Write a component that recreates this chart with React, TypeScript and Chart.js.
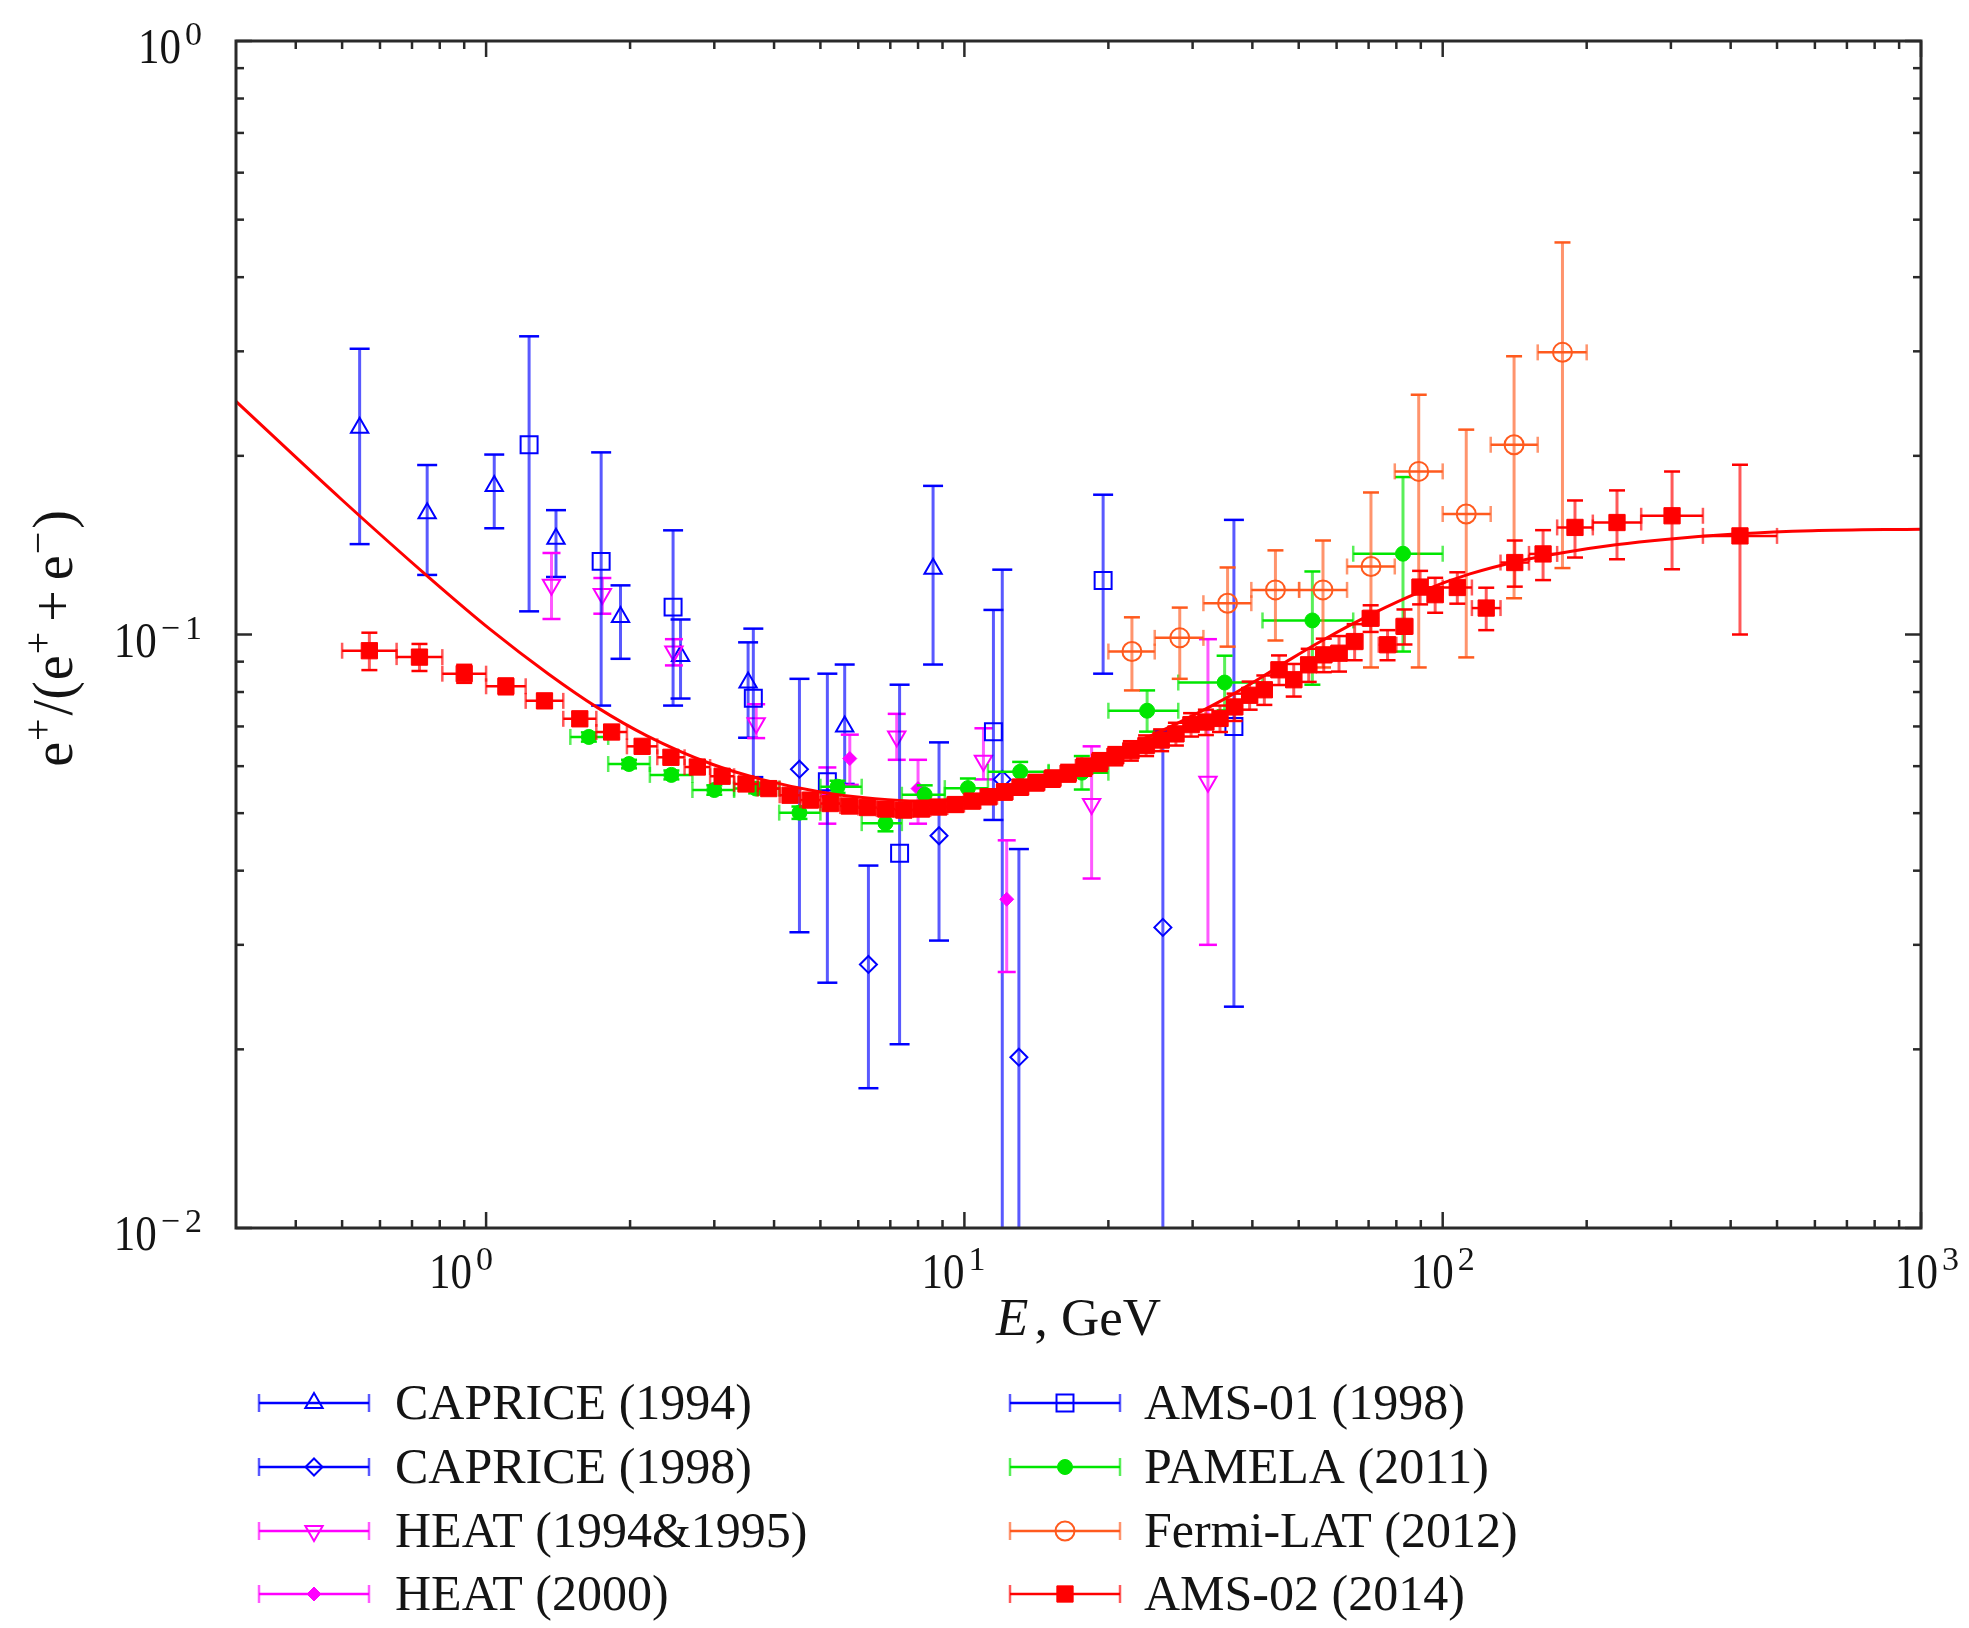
import React, { useEffect, useRef } from 'react';
import { Chart, registerables } from 'chart.js';

Chart.register(...registerables);

// ---------- page / frame geometry ----------
const PAGE_W = 1969;
const PAGE_H = 1628;
const AREA = { left: 236, top: 41, right: 1921, bottom: 1228 };

// ---------- axes ----------
const X_MIN = 0.3;
const X_MAX = 1000;
const Y_MIN = 0.01;
const Y_MAX = 1;
const X_MAJOR = [1, 10, 100, 1000];
const X_MAJOR_EXP = ['0', '1', '2', '3'];
const Y_MAJOR = [0.01, 0.1, 1];
const Y_MAJOR_EXP = ['\u22122', '\u22121', '0'];
const X_MINOR = [0.4, 0.5, 0.6, 0.7, 0.8, 0.9, 2, 3, 4, 5, 6, 7, 8, 9, 20, 30, 40, 50, 60, 70, 80, 90, 200, 300, 400, 500, 600, 700, 800, 900];
const Y_MINOR = [0.02, 0.03, 0.04, 0.05, 0.06, 0.07, 0.08, 0.09, 0.2, 0.3, 0.4, 0.5, 0.6, 0.7, 0.8, 0.9];

// ---------- measurements: positron fraction e+/(e+ + e-) vs energy (GeV) ----------
const CAPRICE94_E = [0.544, 0.753, 1.04, 1.40, 1.91, 2.55, 3.53, 5.62, 8.60];
const CAPRICE94_R = [0.223, 0.160, 0.178, 0.145, 0.107, 0.092, 0.083, 0.070, 0.129];
const CAPRICE94_LO = [0.142, 0.126, 0.151, 0.125, 0.091, 0.078, 0.067, 0.056, 0.089];
const CAPRICE94_HI = [0.303, 0.193, 0.201, 0.162, 0.121, 0.106, 0.097, 0.089, 0.178];

const CAPRICE98_E = [4.52, 6.30, 8.85, 12.0, 13.0, 26.0];
const CAPRICE98_R = [0.0593, 0.0278, 0.0458, 0.0570, 0.0194, 0.0321];
const CAPRICE98_LO = [0.0315, 0.0172, 0.0305, 0.005, 0.005, 0.005];
const CAPRICE98_HI = [0.0842, 0.0408, 0.0658, 0.1286, 0.0435, 0.0688];

const HEAT9495_E = [1.37, 1.75, 2.47, 3.67, 7.22, 10.96, 18.45, 32.3];
const HEAT9495_R = [0.1213, 0.1170, 0.0936, 0.0709, 0.0673, 0.0613, 0.0518, 0.0565];
const HEAT9495_LO = [0.1062, 0.1084, 0.0887, 0.0669, 0.0615, 0.0570, 0.0388, 0.0300];
const HEAT9495_HI = [0.1372, 0.1245, 0.0982, 0.0763, 0.0735, 0.0695, 0.0648, 0.0982];

const HEAT2000_E = [5.17, 5.76, 8.0, 12.26];
const HEAT2000_R = [0.0535, 0.0618, 0.0550, 0.0358];
const HEAT2000_LO = [0.0480, 0.0558, 0.0480, 0.0270];
const HEAT2000_HI = [0.0597, 0.0678, 0.0615, 0.0450];

const AMS01_E = [1.23, 1.74, 2.46, 3.62, 5.17, 7.32, 11.5, 19.5, 36.6];
const AMS01_R = [0.2088, 0.1328, 0.1112, 0.0781, 0.0565, 0.0428, 0.0686, 0.1233, 0.0700];
const AMS01_LO = [0.1094, 0.0759, 0.0759, 0.0575, 0.0259, 0.0204, 0.0487, 0.0859, 0.0236];
const AMS01_HI = [0.318, 0.2027, 0.1498, 0.1023, 0.0859, 0.0823, 0.110, 0.172, 0.156];

const PAMELA_EDGES = [1.5, 1.8, 2.2, 2.7, 3.3, 4.1, 5.0, 6.1, 7.4, 9.1, 11.2, 15, 20, 28, 42, 65, 100];
const PAMELA_E = [1.64, 1.99, 2.44, 3.00, 3.67, 4.52, 5.43, 6.84, 8.26, 10.17, 13.08, 17.6, 24.1, 35.0, 53.4, 82.6];
const PAMELA_R = [0.0672, 0.0605, 0.0580, 0.0547, 0.0550, 0.0501, 0.0554, 0.0481, 0.0537, 0.0551, 0.0587, 0.0585, 0.0744, 0.0830, 0.1056, 0.1368];
const PAMELA_LO = [0.0660, 0.0595, 0.0570, 0.0537, 0.0540, 0.0489, 0.0541, 0.0466, 0.0517, 0.0525, 0.0565, 0.0548, 0.0686, 0.0745, 0.0823, 0.0936];
const PAMELA_HI = [0.0684, 0.0615, 0.0590, 0.0557, 0.0560, 0.0513, 0.0567, 0.0496, 0.0557, 0.0572, 0.0610, 0.0624, 0.0805, 0.0921, 0.1277, 0.1842];

const FERMI_EDGES = [20, 25, 31.6, 39.8, 50.1, 63.1, 79.4, 100, 126, 158, 200];
const FERMI_E = [22.4, 28.2, 35.5, 44.7, 56.2, 70.8, 89.1, 112, 141, 178];
const FERMI_R = [0.0936, 0.0987, 0.1129, 0.1189, 0.1189, 0.1302, 0.1883, 0.1596, 0.2088, 0.2988];
const FERMI_LO = [0.0805, 0.0842, 0.0954, 0.0977, 0.0880, 0.0880, 0.0880, 0.0915, 0.1151, 0.1294];
const FERMI_HI = [0.1069, 0.1110, 0.1297, 0.1386, 0.1440, 0.1735, 0.2535, 0.2214, 0.2943, 0.4577];

const AMS02_EDGES = [
  0.5, 0.65, 0.81, 1.0, 1.21, 1.45, 1.70, 1.97, 2.28, 2.60, 2.94, 3.30, 3.70, 4.11, 4.54, 5.00,
  5.50, 6.00, 6.56, 7.16, 7.80, 8.48, 9.21, 9.98, 10.8, 11.7, 12.6, 13.6, 14.7, 15.9, 17.1, 18.5,
  19.9, 21.5, 23.1, 24.9, 26.7, 28.7, 30.9, 33.1, 35.4, 38.1, 40.9, 43.9, 47.1, 50.6, 54.4, 58.5,
  63.0, 68.0, 73.5, 80.0, 86.5, 93.0, 100, 115.1, 132.1, 151.5, 173.5, 206, 260, 350, 500,
];
const AMS02_R = [
  0.0939, 0.0916, 0.0859, 0.0818, 0.0773, 0.0721, 0.0685, 0.0648, 0.0621, 0.0598,
  0.0577, 0.0560, 0.0550, 0.0536, 0.0526, 0.0519, 0.0514, 0.0511, 0.0508, 0.0506,
  0.0508, 0.0512, 0.0517, 0.0524, 0.0533, 0.0543, 0.0553, 0.0563, 0.0572, 0.0584,
  0.0598, 0.0610, 0.0624, 0.0637, 0.0650, 0.0664, 0.0680, 0.0705, 0.0712, 0.0722,
  0.0755, 0.0790, 0.0807, 0.0872, 0.0839, 0.0889, 0.0924, 0.0930, 0.0973, 0.1065,
  0.0961, 0.1032, 0.1202, 0.1167, 0.1200, 0.1108, 0.1322, 0.1367, 0.1515, 0.1544,
  0.1585, 0.1466,
];
const AMS02_ERR = [
  0.0068, 0.0048, 0.0030, 0.0025, 0.0020, 0.0018, 0.0016, 0.0015, 0.0014, 0.0013,
  0.0012, 0.0012, 0.0012, 0.0012, 0.0012, 0.0012, 0.0012, 0.0012, 0.0012, 0.0013,
  0.0013, 0.0013, 0.0014, 0.0014, 0.0015, 0.0016, 0.0016, 0.0017, 0.0018, 0.0019,
  0.0020, 0.0021, 0.0022, 0.0024, 0.0026, 0.0028, 0.0030, 0.0032, 0.0035, 0.0037,
  0.0040, 0.0043, 0.0046, 0.0050, 0.0053, 0.0057, 0.0060, 0.0064, 0.0068, 0.0055,
  0.0056, 0.0070, 0.0078, 0.0079, 0.0073, 0.0091, 0.0118, 0.0132, 0.0167, 0.0205,
  0.0297, 0.0466,
];

// model curve
const MODEL_E = [0.3, 0.5, 0.76, 1.02, 1.35, 1.71, 2.17, 2.96, 3.8, 5.0, 6.5, 8.0, 10, 13, 17, 22, 28, 35, 42, 48, 56, 71, 90, 114, 144, 182, 230, 292, 416, 592, 1000];
const MODEL_R = [0.247, 0.1685, 0.1247, 0.1020, 0.0858, 0.0753, 0.0675, 0.0605, 0.0569, 0.0543, 0.0529, 0.0524, 0.0530, 0.0554, 0.0596, 0.0649, 0.0710, 0.0779, 0.0849, 0.0908, 0.0977, 0.1082, 0.1181, 0.1265, 0.1329, 0.1377, 0.1416, 0.1446, 0.1478, 0.1496, 0.1505];

// ---------- series styling ----------
type Marker = 'triangle' | 'rectRot' | 'rect' | 'circle';
interface Series {
  label: string;
  color: string;
  marker: Marker;
  radius: number;
  rotation: number;
  filled: boolean;
  E: number[];
  R: number[];
  lo: number[];
  hi: number[];
  xlo?: number[];
  xhi?: number[];
  cap: number;
}

const binLo = (edges: number[]) => edges.slice(0, -1);
const binHi = (edges: number[]) => edges.slice(1);

const SERIES: Series[] = [
  { label: 'CAPRICE (1994)', color: '#0000ff', marker: 'triangle', radius: 10, rotation: 0, filled: false,
    E: CAPRICE94_E, R: CAPRICE94_R, lo: CAPRICE94_LO, hi: CAPRICE94_HI, cap: 10 },
  { label: 'CAPRICE (1998)', color: '#0000ff', marker: 'rectRot', radius: 8.5, rotation: 0, filled: false,
    E: CAPRICE98_E, R: CAPRICE98_R, lo: CAPRICE98_LO, hi: CAPRICE98_HI, cap: 10 },
  { label: 'HEAT (1994&1995)', color: '#ff00ff', marker: 'triangle', radius: 10, rotation: 180, filled: false,
    E: HEAT9495_E, R: HEAT9495_R, lo: HEAT9495_LO, hi: HEAT9495_HI, cap: 9 },
  { label: 'HEAT (2000)', color: '#ff00ff', marker: 'rectRot', radius: 7, rotation: 0, filled: true,
    E: HEAT2000_E, R: HEAT2000_R, lo: HEAT2000_LO, hi: HEAT2000_HI, cap: 9 },
  { label: 'AMS-01 (1998)', color: '#0000ff', marker: 'rect', radius: 12, rotation: 0, filled: false,
    E: AMS01_E, R: AMS01_R, lo: AMS01_LO, hi: AMS01_HI, cap: 10 },
  { label: 'PAMELA (2011)', color: '#00e600', marker: 'circle', radius: 7.5, rotation: 0, filled: true,
    E: PAMELA_E, R: PAMELA_R, lo: PAMELA_LO, hi: PAMELA_HI,
    xlo: binLo(PAMELA_EDGES), xhi: binHi(PAMELA_EDGES), cap: 8 },
  { label: 'Fermi-LAT (2012)', color: '#ff5a1e', marker: 'circle', radius: 9.5, rotation: 0, filled: false,
    E: FERMI_E, R: FERMI_R, lo: FERMI_LO, hi: FERMI_HI,
    xlo: binLo(FERMI_EDGES), xhi: binHi(FERMI_EDGES), cap: 8 },
  { label: 'AMS-02 (2014)', color: '#ff0000', marker: 'rect', radius: 11.5, rotation: 0, filled: true,
    E: binLo(AMS02_EDGES).map((lo, i) => Math.sqrt(lo * AMS02_EDGES[i + 1])),
    R: AMS02_R,
    lo: AMS02_R.map((r, i) => r - AMS02_ERR[i]),
    hi: AMS02_R.map((r, i) => r + AMS02_ERR[i]),
    xlo: binLo(AMS02_EDGES), xhi: binHi(AMS02_EDGES), cap: 8 },
];

const SERIF = '"Liberation Serif", "Times New Roman", serif';
const INK = '#141414';
const FRAME = '#2a2a2a';

// ---------- drawing helpers ----------
function drawMarker(ctx: CanvasRenderingContext2D, s: Series, x: number, y: number) {
  const r = s.radius;
  ctx.beginPath();
  if (s.marker === 'circle') {
    ctx.arc(x, y, r, 0, Math.PI * 2);
  } else if (s.marker === 'rect') {
    const h = r * Math.SQRT1_2;
    ctx.rect(x - h, y - h, 2 * h, 2 * h);
  } else if (s.marker === 'rectRot') {
    ctx.moveTo(x - r, y);
    ctx.lineTo(x, y - r);
    ctx.lineTo(x + r, y);
    ctx.lineTo(x, y + r);
    ctx.closePath();
  } else {
    let rad = (s.rotation * Math.PI) / 180;
    ctx.moveTo(x + Math.sin(rad) * r, y - Math.cos(rad) * r);
    rad += (2 * Math.PI) / 3;
    ctx.lineTo(x + Math.sin(rad) * r, y - Math.cos(rad) * r);
    rad += (2 * Math.PI) / 3;
    ctx.lineTo(x + Math.sin(rad) * r, y - Math.cos(rad) * r);
    ctx.closePath();
  }
  if (s.filled) {
    ctx.fillStyle = s.color;
    ctx.fill();
  }
  ctx.strokeStyle = s.color;
  ctx.lineWidth = s.filled ? 1 : 2;
  ctx.stroke();
}

function seg(ctx: CanvasRenderingContext2D, x1: number, y1: number, x2: number, y2: number) {
  ctx.beginPath();
  ctx.moveTo(x1, y1);
  ctx.lineTo(x2, y2);
  ctx.stroke();
}

function drawPow(ctx: CanvasRenderingContext2D, exp: string, x: number, baseline: number, align: 'right' | 'center') {
  const SX = 0.86;
  ctx.font = `50px ${SERIF}`;
  const w10 = ctx.measureText('10').width * SX;
  ctx.font = `34px ${SERIF}`;
  const parts = exp.startsWith('\u2212') ? ['\u2212', exp.slice(1)] : [exp];
  const widths = parts.map((p) => ctx.measureText(p).width);
  const gapE = 5;
  const wExp = widths.reduce((a, b) => a + b, 0) + (parts.length - 1) * gapE;
  const total = w10 + 4 + wExp;
  const start = align === 'right' ? x - total : x - total / 2;
  ctx.fillStyle = INK;
  ctx.textAlign = 'left';
  ctx.textBaseline = 'alphabetic';
  ctx.save();
  ctx.translate(start, baseline);
  ctx.scale(SX, 1);
  ctx.font = `50px ${SERIF}`;
  ctx.fillText('10', 0, 0);
  ctx.restore();
  ctx.font = `34px ${SERIF}`;
  let cx = start + w10 + 4;
  parts.forEach((p, i) => {
    ctx.fillText(p, cx, baseline - 18);
    cx += widths[i] + gapE;
  });
}

// error bars for each dataset, drawn just before its markers
const errorBarPlugin = {
  id: 'errorBars',
  beforeDatasetDraw(chart: any, args: any) {
    const ds = chart.data.datasets[args.index] as any;
    const s: Series | undefined = ds.series;
    if (!s) return;
    const { ctx, chartArea: a } = chart;
    const xs = chart.scales.x;
    const ys = chart.scales.y;
    ctx.save();
    ctx.beginPath();
    ctx.rect(a.left, a.top, a.right - a.left, a.bottom - a.top);
    ctx.clip();
    ctx.strokeStyle = s.color;
    s.E.forEach((e, i) => {
      const px = xs.getPixelForValue(e);
      const py = ys.getPixelForValue(s.R[i]);
      const yl = ys.getPixelForValue(s.lo[i]);
      const yh = ys.getPixelForValue(s.hi[i]);
      ctx.globalAlpha = 0.65;
      ctx.lineWidth = 3;
      seg(ctx, px, yl, px, yh);
      ctx.globalAlpha = 1;
      ctx.lineWidth = 2.5;
      seg(ctx, px - s.cap, yl, px + s.cap, yl);
      seg(ctx, px - s.cap, yh, px + s.cap, yh);
      if (s.xlo && s.xhi) {
        const xl = xs.getPixelForValue(s.xlo[i]);
        const xh = xs.getPixelForValue(s.xhi[i]);
        ctx.lineWidth = 2.5;
        seg(ctx, xl, py, xh, py);
        ctx.globalAlpha = 0.65;
        seg(ctx, xl, py - 8, xl, py + 8);
        seg(ctx, xh, py - 8, xh, py + 8);
        ctx.globalAlpha = 1;
      }
    });
    ctx.restore();
  },
};

// frame, inward ticks, tick labels, axis titles and key
const decorPlugin = {
  id: 'decor',
  afterDraw(chart: any) {
    const { ctx, chartArea: a } = chart;
    const xs = chart.scales.x;
    const ys = chart.scales.y;
    ctx.save();

    // ticks
    ctx.strokeStyle = FRAME;
    ctx.lineWidth = 2.5;
    const xt = (v: number, len: number) => {
      const px = xs.getPixelForValue(v);
      seg(ctx, px, a.bottom, px, a.bottom - len);
      seg(ctx, px, a.top, px, a.top + len);
    };
    const yt = (v: number, len: number) => {
      const py = ys.getPixelForValue(v);
      seg(ctx, a.left, py, a.left + len, py);
      seg(ctx, a.right, py, a.right - len, py);
    };
    X_MINOR.forEach((v) => xt(v, 8));
    X_MAJOR.forEach((v) => xt(v, 16));
    Y_MINOR.forEach((v) => yt(v, 8));
    Y_MAJOR.forEach((v) => yt(v, 16));

    // frame
    ctx.lineWidth = 3;
    ctx.strokeRect(a.left, a.top, a.right - a.left, a.bottom - a.top);

    // tick labels
    const xShift = [-25, -11, 0, 6];
    X_MAJOR.forEach((v, i) => {
      drawPow(ctx, X_MAJOR_EXP[i], xs.getPixelForValue(v) + xShift[i], a.bottom + 60, 'center');
    });
    Y_MAJOR.forEach((v, i) => {
      drawPow(ctx, Y_MAJOR_EXP[i], 202, ys.getPixelForValue(v) + 22, 'right');
    });

    // x title: E, GeV
    ctx.fillStyle = INK;
    ctx.textBaseline = 'alphabetic';
    ctx.textAlign = 'left';
    const xTitleBase = a.bottom + 107;
    ctx.font = `italic 53px ${SERIF}`;
    const wE = ctx.measureText('E').width;
    ctx.font = `53px ${SERIF}`;
    const wRest = ctx.measureText(', GeV').width;
    const tStart = (a.left + a.right) / 2 - (wE + 6 + wRest) / 2;
    ctx.font = `italic 53px ${SERIF}`;
    ctx.fillText('E', tStart, xTitleBase);
    ctx.font = `53px ${SERIF}`;
    ctx.fillText(', GeV', tStart + wE + 6, xTitleBase);

    // y title: e+/(e+ + e-)
    const main = `56px ${SERIF}`;
    const sup = `40px ${SERIF}`;
    const pieces: [string, string, number, number][] = [
      ['e', main, 0, 1],
      ['+', sup, -21, 3],
      ['/(', main, 0, 1],
      ['e', main, 0, 1],
      ['+', sup, -21, 10],
      ['+', main, 0, 10],
      ['e', main, 0, 1],
      ['\u2212', sup, -21, 3],
      [')', main, 0, 0],
    ];
    let total = 0;
    pieces.forEach(([t, f, , gap]) => {
      ctx.font = f;
      total += ctx.measureText(t).width + gap;
    });
    ctx.save();
    ctx.translate(72, (a.top + a.bottom) / 2 + 4);
    ctx.rotate(-Math.PI / 2);
    let u = -total / 2;
    pieces.forEach(([t, f, dy, gap]) => {
      ctx.font = f;
      ctx.fillText(t, u, dy);
      u += ctx.measureText(t).width + gap;
    });
    ctx.restore();

    // key
    const rows = [1403, 1467, 1531, 1594];
    const cols = [
      { x0: 259, x1: 369, tx: 395 },
      { x0: 1010, x1: 1120, tx: 1144 },
    ];
    SERIES.forEach((s, k) => {
      const c = cols[Math.floor(k / 4)];
      const y = rows[k % 4];
      ctx.strokeStyle = s.color;
      ctx.lineWidth = 2.5;
      seg(ctx, c.x0, y, c.x1, y);
      ctx.globalAlpha = 0.65;
      seg(ctx, c.x0, y - 9, c.x0, y + 9);
      seg(ctx, c.x1, y - 9, c.x1, y + 9);
      ctx.globalAlpha = 1;
      drawMarker(ctx, s, (c.x0 + c.x1) / 2, y);
      ctx.fillStyle = INK;
      ctx.font = `50px ${SERIF}`;
      ctx.textAlign = 'left';
      ctx.fillText(s.label, c.tx, y + 16);
    });

    ctx.restore();
  },
};

export default function App() {
  const ref = useRef<HTMLCanvasElement | null>(null);

  useEffect(() => {
    if (!ref.current) return;
    const n = SERIES.length;
    const datasets: any[] = SERIES.map((s, k) => ({
      label: s.label,
      data: s.E.map((e, i) => ({ x: e, y: s.R[i] })),
      showLine: false,
      pointStyle: s.marker,
      pointRadius: s.radius,
      pointHoverRadius: s.radius,
      pointRotation: s.rotation,
      pointBackgroundColor: s.filled ? s.color : 'rgba(0,0,0,0)',
      pointBorderColor: s.color,
      pointBorderWidth: s.filled ? 1 : 2,
      order: n + 1 - k,
      series: s,
    }));
    datasets.push({
      label: 'model',
      data: MODEL_E.map((e, i) => ({ x: e, y: MODEL_R[i] })),
      showLine: true,
      borderColor: '#ff0000',
      borderWidth: 3,
      pointRadius: 0,
      pointHoverRadius: 0,
      cubicInterpolationMode: 'monotone',
      fill: false,
      order: 0,
    });

    const chart = new Chart(ref.current, {
      type: 'scatter',
      data: { datasets },
      options: {
        responsive: false,
        animation: false,
        devicePixelRatio: 1,
        events: [],
        layout: { padding: { left: AREA.left, top: AREA.top, right: PAGE_W - AREA.right, bottom: 0 } },
        plugins: { legend: { display: false }, tooltip: { enabled: false } },
        scales: {
          x: {
            type: 'logarithmic',
            min: X_MIN,
            max: X_MAX,
            grid: { display: false },
            border: { display: false },
            ticks: { display: false },
            afterFit: (s: any) => { s.height = PAGE_H - AREA.bottom; },
          },
          y: {
            type: 'logarithmic',
            min: Y_MIN,
            max: Y_MAX,
            grid: { display: false },
            border: { display: false },
            ticks: { display: false },
            afterFit: (s: any) => { s.width = 0; },
          },
        },
      } as any,
      plugins: [errorBarPlugin, decorPlugin],
    });
    return () => chart.destroy();
  }, []);

  return (
    <canvas
      ref={ref}
      width={PAGE_W}
      height={PAGE_H}
      style={{ position: 'absolute', left: 0, top: 0, background: '#ffffff' }}
    />
  );
}
